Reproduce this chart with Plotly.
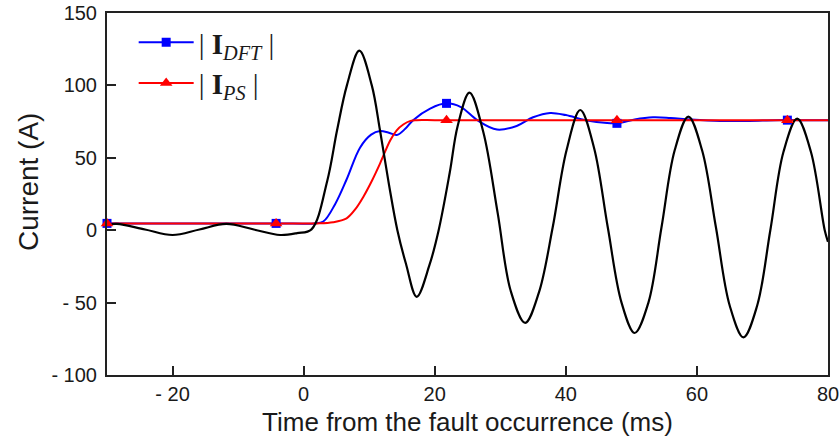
import plotly.graph_objects as go

# ---- data ----
t_inst = [-30, -28.5, -24.2, -20, -15.9, -11.8, -7.6, -3.6, -1.0, 1.2,
          3.6, 5.1, 6.6, 8.5, 10.4, 11.65, 13.0, 14.3, 15.6, 17.25,
          19.2, 20.6, 22.3, 23.5, 25.3, 27.4, 29.6, 31.6, 33.8, 35.9,
          38.0, 40.1, 42.2, 44.3, 46.4, 48.5, 50.5, 52.6, 54.6, 56.6,
          58.7, 60.8, 62.9, 65.0, 67.1, 69.2, 71.2, 73.2, 75.3, 77.4,
          79.5, 80]
i_inst = [3.8, 4.3, 0.5, -3.3, 0.5, 4.3, 0.5, -3.3, -2.0, 0.6,
          34, 69, 100, 124, 100, 69, 32, 0, -23, -46,
          -24, 0, 40, 72, 95, 68, 12, -42, -64, -43,
          2, 55, 83, 57, 2, -50, -71, -50, 2, 55,
          78.5, 55, 2, -52, -74, -52, 0, 54, 77, 54,
          0, -8]

t_dft = [-30, -4.2, 1.5, 3.0, 4.8, 6.55, 8.6, 10.3, 11.65, 12.9,
         14.2, 15.5, 16.7, 19.3, 21.8, 24.0, 26.5, 29.5, 32.5, 35.0,
         37.6, 40.0, 43.0, 46.3, 48.0, 50.5, 53.3, 56.0, 59.0, 63.5,
         68.0, 72.0, 76.0, 80.0]
i_dft = [4.7, 4.7, 4.7, 6.0, 18, 35, 57, 66, 68.5, 67.5,
         65.7, 70, 76, 84, 87.6, 85, 76, 69.5, 72, 78,
         81, 79.5, 76, 74, 74, 76.5, 78, 77.5, 76.5, 75.5,
         75.5, 76, 76, 76]

t_ps = [-30, -4.2, 2.0, 4.5, 6.55, 7.8, 9.1, 10.4, 11.65, 13.2,
        14.2, 15.2, 16.3, 17.25, 20, 30, 50, 80]
i_ps = [4.7, 4.7, 4.7, 5.5, 8.2, 14, 23, 34, 46, 62,
        69, 73, 75.5, 76, 76, 76, 76, 76]

t_mark = [-30, -4.2, 21.8, 47.8, 73.8]
dft_mark = [4.7, 4.7, 87.6, 73.8, 76]
ps_mark = [4.7, 4.7, 76, 76, 76]

x_ticks = [-20, 0, 20, 40, 60, 80]
x_ticktext = ["- 20", "0", "20", "40", "60", "80"]
y_ticks = [-100, -50, 0, 50, 100, 150]
y_ticktext = ["- 100", "- 50", "0", "50", "100", "150"]

BLUE = "#0000ff"
RED = "#ff0000"
SANS = "Liberation Sans, Arial, sans-serif"
INK = "#1a1a1a"

fig = go.Figure()
fig.add_trace(go.Scatter(x=t_dft, y=i_dft, mode="lines", line=dict(color=BLUE, width=2, shape="spline", smoothing=1),
                         showlegend=False, hoverinfo="skip"))
fig.add_trace(go.Scatter(x=t_ps, y=i_ps, mode="lines", line=dict(color=RED, width=2, shape="spline", smoothing=1),
                         showlegend=False, hoverinfo="skip"))
fig.add_trace(go.Scatter(x=t_inst, y=i_inst, mode="lines", line=dict(color="black", width=2.2, shape="spline", smoothing=1),
                         showlegend=False))
fig.add_trace(go.Scatter(x=t_mark, y=dft_mark, mode="markers", marker=dict(color=BLUE, symbol="square", size=9),
                         showlegend=False, cliponaxis=False))
fig.add_trace(go.Scatter(x=t_mark, y=ps_mark, mode="markers", marker=dict(color=RED, symbol="triangle-up", size=11),
                         showlegend=False, cliponaxis=False))
# legend entries
fig.add_trace(go.Scatter(x=[None], y=[None], mode="lines+markers", name="| <b>I</b><sub><i>DFT</i></sub> |",
                         legendgroup="dft",
                         line=dict(color=BLUE, width=2), marker=dict(color=BLUE, symbol="square", size=9)))
fig.add_trace(go.Scatter(x=[None], y=[None], mode="lines+markers", name="| <b>I</b><sub><i>PS</i></sub> |",
                         legendgroup="ps",
                         line=dict(color=RED, width=2), marker=dict(color=RED, symbol="triangle-up", size=11)))

axis_common = dict(showline=True, linecolor="#222", linewidth=2, mirror=True, ticks="inside", ticklen=9,
                   tickwidth=1.5, tickcolor="#222", showgrid=False, zeroline=False, automargin=False,
                   ticklabeloverflow="allow",
                   tickfont=dict(family=SANS, size=20, color=INK))

fig.update_layout(
    template="none",
    width=840, height=440,
    margin=dict(l=107, r=12, t=13, b=65),
    paper_bgcolor="white", plot_bgcolor="white",
    xaxis=dict(range=[-30, 80], tickvals=x_ticks, ticktext=x_ticktext, ticklabelstandoff=0,
               title=dict(text="Time from the fault occurrence (ms)", standoff=9,
                          font=dict(family=SANS, size=26, color=INK)),
               **axis_common),
    yaxis=dict(range=[-100, 150], tickvals=y_ticks, ticktext=y_ticktext, ticklabelstandoff=4,
               **axis_common),
    annotations=[dict(text="Current (A)", textangle=-90, xref="paper", yref="paper",
                      x=-0.1096, y=0.533, xanchor="center", yanchor="middle", showarrow=False,
                      font=dict(family=SANS, size=28, color=INK))],
    legend=dict(x=0.037, y=0.989, xanchor="left", yanchor="top", bgcolor="rgba(0,0,0,0)",
                font=dict(family="Liberation Serif, Times New Roman, serif", size=29, color=INK),
                itemwidth=55, tracegroupgap=0),
    showlegend=True,
)

fig.write_html("out.html", config={"displayModeBar": False},
               post_script="document.body.style.margin='0px';")
